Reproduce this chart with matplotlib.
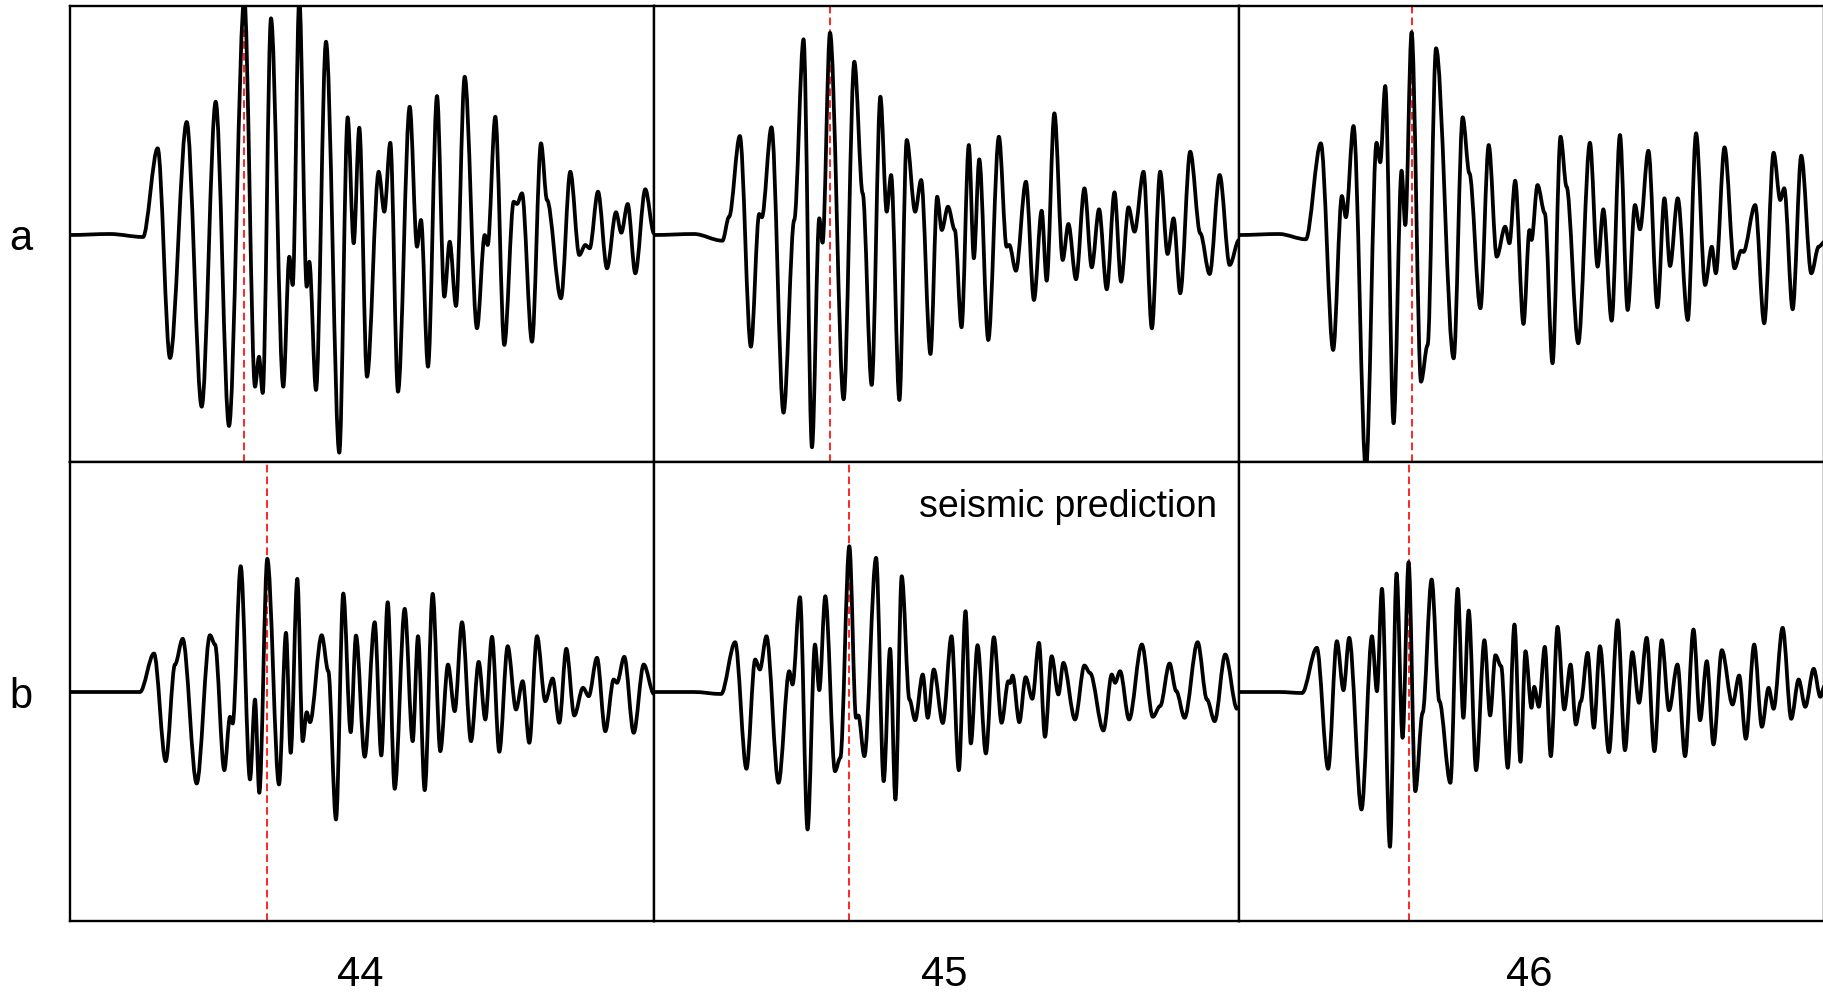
import matplotlib
matplotlib.use("Agg")
import matplotlib.pyplot as plt
from matplotlib.path import Path
from matplotlib.patches import PathPatch

plt.rcParams['font.family'] = ['Liberation Sans', 'DejaVu Sans']
plt.rcParams['lines.scale_dashes'] = False

# ---------------- data (time in samples, amplitude in arbitrary units) ----------------
row_labels = ["a", "b"]
col_labels = ["44", "45", "46"]
annotation = "seismic prediction"

a44_t = [0, 40, 73, 87.7, 100, 116.7, 131.7, 145.7, 159, 174.3, 185, 189, 192.7, 201, 213.3, 219.3, 222.7,
         229.3, 236.7, 239.3, 246, 256, 269.3, 277.7, 283.7, 289.3, 297, 308.7, 314.3, 320.3, 328, 339.7, 347,
         351, 358, 367, 374.3, 379.7, 386, 394.7, 407, 414.7, 417.7, 425.3, 434.3, 443.7, 447, 452, 462, 471,
         477, 491, 500.3, 509.3, 515.3, 519.7, 528, 537, 546, 551.3, 557.7, 565.3, 575.3, 584]
a44_v = [0, 1, -2, 86.7, -123, 113, -171.7, 133.3, -191, 236, -151.7, -121.7, -158, 216.7, -151.7, -21.7, -50,
         236, -51.7, -26.7, -155, 193.3, -217.7, 117.7, -8.3, 107.3, -141.7, 63.3, 23.3, 92.3, -156.7, 128.3, -11.7,
         15, -131.7, 139, -61.7, -6.7, -71, 158.3, -93.3, 0, -10, 118.3, -110, 33.3, 31, 41.7, -106.7, 91.7,
         35, -63.3, 63.3, -20, -10, -13.3, 43.3, -33.3, 22.7, 2.3, 31, -38.3, 45.7, 1.7]

a45_t = [0, 40, 68.3, 75, 85.7, 96.7, 105, 107.7, 117.3, 129.3, 140, 149.3, 157.7, 165, 168.3, 175.7, 189.3,
         200, 208.3, 217.3, 226, 232.3, 236.7, 245, 252.3, 260.7, 266.7, 276, 282.7, 287.3, 293.5, 300.3, 307,
         314.3, 319.3, 324.7, 333.7, 344.3, 352, 354.7, 361.3, 371.3, 379.3, 387, 392, 399.7, 408, 413.7, 421.3,
         429.7, 437, 444.3, 452, 459.7, 466.3, 473.7, 479.7, 488.7, 497, 505.3, 512.7, 518.7, 525.3, 535.3,
         545.3, 554.7, 564.7, 574.7, 584]
a45_v = [0, 1, -5.7, 18.3, 99, -111.7, 21, 17.7, 107.7, -177.7, 15, 195.7, -212.3, 16.7, -7.7, 202.3, -164.3,
         173.3, 41.7, -150, 138.3, 23.3, 60, -165, 95, 23.3, 55, -119, 38.3, 5, 28.3, 5, -92.3,
         90, -23.3, 75.7, -105, 98.3, -11.7, -10, -35.7, 53.3, -65, 24.3, -45.7, 121.7, -25, 11, -44.3,
         46.7, -32.3, 25.7, -54.3, 42.7, -46.7, 27.7, 3.3, 63.3, -93.3, 63.3, -19, 16.7, -58.3, 83.3,
         1.7, -39, 60, -30, -5]

a46_t = [0, 40, 66.7, 81.7, 94, 102.7, 106.7, 114.3, 126.7, 137.3, 141, 146, 154.3, 162.3, 166, 172.3, 181.7,
         188.3, 196.7, 214.3, 223.3, 230, 241, 249.3, 257.3, 265.7, 270, 275.7, 284, 290, 292, 298, 305.3,
         313, 321, 327, 338.7, 350.3, 358, 363.7, 372, 380.3, 388, 395.3, 400.3, 408.7, 417.7, 424.7, 430.3,
         438, 448, 456.3, 465.3, 472, 476, 484.7, 494.7, 501.3, 503.5, 515.3, 524.3, 533.7, 540.3, 544.3,
         552.7, 561.3, 571.3, 578.7, 584.7]
a46_v = [0, 1, -4.3, 91.7, -115, 39, 17.7, 109, -235, 92.3, 72.7, 149, -188.3, 64.3, 10, 202.7, -146.7,
         -110, 186.7, -123.3, 117.7, 61.7, -73.3, 90, -21.7, 8.3, -8.3, 54.3, -89, 5, -5, 50, 21.7,
         -128.3, 98.3, 48.3, -108.3, 92.3, -31.7, 25.7, -85.7, 100, -75, 30, 5.7, 84.3, -72.3, 36.7, -31,
         36.7, -85, 101.7, -50, -11.7, -38.3, 87.7, -33.3, -15.7, -17, 30, -88.3, 82.3, 35, 46.7,
         -74.3, 79.3, -38.3, -11.7, -6.7]

b44_t = [0, 40, 70, 84, 95.7, 105, 112.7, 126.7, 140, 145, 154.3, 160, 162.7, 170.7, 180, 185, 189.3, 197.3,
         209, 216, 220.7, 227.3, 232.7, 236.7, 240, 251.7, 258.3, 266, 273.3, 280.7, 286, 294.7, 304.7, 311.3,
         317.7, 324.7, 334.7, 342.7, 348, 354.7, 362.7, 370.3, 378, 384.7, 392, 401, 408.7, 415.3, 422, 429.3,
         437.7, 446, 452.7, 459.3, 467, 475.3, 482.7, 489.3, 496.3, 504.3, 513, 518.7, 527, 535.3, 543.7, 547,
         554.3, 563.7, 573.7, 584]
b44_v = [0, 0, 0, 38.5, -69.2, 27.5, 53.2, -91.5, 56.8, 47.5, -78.2, -24.8, -31.5, 125.8, -87.5, -7.5, -100.8, 133.2,
         -92.5, 59.2, -60.8, 113.2, -49.2, -20.2, -30.2, 56.8, 20.8, -127.5, 98.5, -40.2, 56.5, -64.8, 69.8, -63.5,
         89.8, -96.8, 83.2, -49.2, 55.8, -98.2, 98.2, -59.2, 27.5, -19.2, 69.8, -49.2, 30.2, -27.5, 55.2, -59.8,
         45.8, -17.5, 10.8, -50.8, 55.8, -9.2, 13.5, -30.8, 43.2, -23.5, 4.2, -4.2, 34.2, -39.2, 12.5, 9.2,
         35.2, -40.8, 27.5, -2]

b45_t = [0, 40, 67, 81, 92.3, 101, 105.7, 112.3, 124.3, 135, 138.3, 145.7, 153.3, 160.7, 165, 171, 180.7, 186,
         195, 201.7, 204, 210, 221.7, 229.3, 235.7, 241, 247.3, 255, 260.7, 268.3, 273.3, 279.3, 288.3, 297,
         304.3, 311, 316.3, 323, 331.3, 339.3, 347, 353.7, 355.5, 358, 364.7, 371, 377.7, 384.3, 390.3, 397,
         403.7, 408.7, 420.3, 429.7, 435.3, 448.7, 457, 460.3, 465.3, 474.3, 487, 498, 505.3, 514.7, 521.3,
         529.7, 542.7, 552, 559.7, 570.3, 582, 584]
b45_v = [0, 0, -2, 49.8, -76.8, 32.5, 22.5, 55.8, -90.8, 20.8, 7.5, 94.8, -137.5, 47.5, 1.8, 95.8, -79.2, -65.8,
         145.8, -25.8, -23.5, -64.2, 134.2, -89.2, 43.2, -107.5, 115.8, -7.5, -28.2, 17.5, -25.8, 22.5, -31, 55.8,
         -78.2, 80.8, -51.5, 46.8, -61.5, 54.8, -30.8, 10.8, 9, 16.5, -30.2, 14.8, -6.8, 49.2, -44.8, 35.8,
         -2.5, 29.2, -27.5, 26.5, 19, -38.5, 17.5, 9.2, 20.8, -27.5, 47.5, -24.8, -14, 28.5, 1,
         -25.8, 49.8, -7.5, -29.2, 37.5, -16.8, -15]

b46_t = [0, 40, 63, 77.7, 89, 97.7, 104.3, 110, 122.3, 132.7, 137.7, 142.7, 150.7, 157.3, 163.3, 169.3, 176,
         183.3, 192.3, 200, 211, 218.3, 224, 229.3, 236.7, 245, 250.7, 256, 261.7, 268.3, 275, 281, 286, 292,
         294.7, 299.3, 305.3, 311.3, 318, 324.7, 331, 336.3, 341.3, 348, 354.3, 360.3, 369.3, 378, 385.3, 392.7,
         399.3, 407, 414.7, 422, 429.3, 437.7, 445.3, 453.7, 460.3, 467, 473.7, 482, 492.7, 499.3, 506, 514.3,
         522, 528.7, 533.7, 542.7, 551.3, 558.7, 565.3, 573.7, 580.3, 584.7]
b46_v = [0, 0, -1, 44.2, -76.8, 50.8, 1.8, 54.2, -117.5, 55.8, 0.8, 103.2, -154.8, 118.5, -45.8, 129.8, -99.2,
         -20.8, 112.5, -9.2, -90.8, 103.2, -25.8, 81.5, -78.2, 51.8, -23.5, 36.8, 25.8, -75.8, 67.5, -69.8, 40.8, -15.8,
         5.2, -14.8, 45.2, -64.2, 65.2, -17.5, 27.5, -32.5, -9.2, 39.2, -35.8, 45.8, -60.2, 71.8, -58.2, 39.8,
         -10.8, 54.2, -59.2, 51.8, -18.2, 27.5, -64.2, 62.5, -28.2, 30.8, -52.5, 41.8, -12.5, 16.5, -46.8, 47.5,
         -34.8, 4.2, -16.8, 64.2, -26.8, 12.5, -14.8, 23.2, -4.8, 6.2]

# picked arrival times (red dashed markers)
pick_a = [174.3, 175.7, 172.3]
pick_b = [196.7, 195.0, 169.3]

# ---------------- figure ----------------
W, H = 1824, 996
fig = plt.figure(figsize=(W / 100, H / 100), dpi=100)

col_left = [70, 654, 1239]
col_w = [584, 585, 585]
row_top = [6, 462]
row_h = [456, 459]
ylims = [(-227, 229), (-229, 230)]
XMAX = 584

traces = [[(a44_t, a44_v), (a45_t, a45_v), (a46_t, a46_v)],
          [(b44_t, b44_v), (b45_t, b45_v), (b46_t, b46_v)]]
picks = [pick_a, pick_b]


def wave_path(t, v):
    verts = [(t[0], v[0])]
    codes = [Path.MOVETO]
    for i in range(1, len(t)):
        d = (t[i] - t[i - 1]) / 3.0
        verts += [(t[i - 1] + d, v[i - 1]), (t[i] - d, v[i]), (t[i], v[i])]
        codes += [Path.CURVE4] * 3
    return Path(verts, codes)


axes = {}
for r in range(2):
    for c in range(3):
        left = col_left[c] / W
        bottom = 1 - (row_top[r] + row_h[r]) / H
        ax = fig.add_axes([left, bottom, col_w[c] / W, row_h[r] / H])
        ax.set_xlim(0, XMAX)
        ax.set_ylim(*ylims[r])
        ax.set_xticks([])
        ax.set_yticks([])
        for s in ax.spines.values():
            s.set_linewidth(1.7)
            s.set_color('black')
        ax.axvline(picks[r][c], color='#ff0000', lw=1.2, ls=(0, (5.5, 3.0)), zorder=1)
        t, v = traces[r][c]
        ax.add_patch(PathPatch(wave_path(t, v), fill=False, edgecolor='black', lw=2.7,
                               joinstyle='round', capstyle='round', zorder=2))
        axes[(r, c)] = ax

axes[(1, 1)].text(0.963, 0.903, annotation, transform=axes[(1, 1)].transAxes,
                  ha='right', va='center', fontsize=27)

for r, lab in enumerate(row_labels):
    yc = row_top[r] + 0.5 * row_h[r]
    fig.text(21 / W, 1 - (yc + 5) / H, lab, ha='center', va='center', fontsize=30)

for c, lab in enumerate(col_labels):
    xc = col_left[c] + col_w[c] / 2
    fig.text((xc - 2) / W, 1 - 975 / H, lab, ha='center', va='center', fontsize=30)

fig.savefig("out.png", dpi=100)
